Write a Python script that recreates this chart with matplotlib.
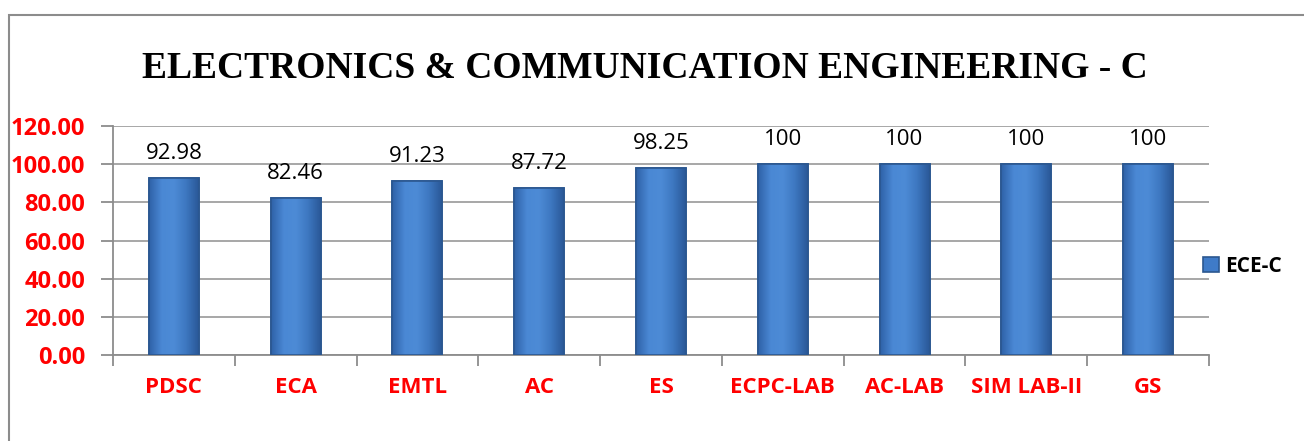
import matplotlib
matplotlib.use("Agg")
import matplotlib.pyplot as plt
from matplotlib.patches import Rectangle
from matplotlib.colors import LinearSegmentedColormap
import numpy as np

categories = ["PDSC", "ECA", "EMTL", "AC", "ES", "ECPC-LAB", "AC-LAB", "SIM LAB-II", "GS"]
values = [92.98, 82.46, 91.23, 87.72, 98.25, 100, 100, 100, 100]
value_labels = ["92.98", "82.46", "91.23", "87.72", "98.25", "100", "100", "100", "100"]
yticks = [0, 20, 40, 60, 80, 100, 120]
series_name = "ECE-C"
title = "ELECTRONICS & COMMUNICATION ENGINEERING - C"

W, H = 1304, 441
fig = plt.figure(figsize=(W / 100, H / 100), dpi=100)
fig.patch.set_facecolor("white")

# outer chart frame
fig.patches.append(Rectangle((9 / W, -0.1), 1.2, 1 - 15 / H + 0.1, transform=fig.transFigure,
                             fill=False, edgecolor="#8c8c8c", linewidth=1.5))

ax = fig.add_axes([113 / W, 1 - 355 / H, (1209 - 113) / W, (355 - 126) / H])
x = np.arange(len(categories))
bw = 0.41
bars = ax.bar(x, values, width=bw, color="#3f7bc8", edgecolor="#2b5790", linewidth=1.2, zorder=3)

# horizontal gradient fill inside bars
cmap = LinearSegmentedColormap.from_list("bev", ["#2f62a8", "#4a88d4", "#4d8bd6", "#3d77c0", "#2a5898"])
grad = np.linspace(0, 1, 64).reshape(1, -1)
for b in bars:
    x0, y0 = b.get_x(), b.get_y()
    im = ax.imshow(grad, cmap=cmap, aspect="auto", extent=(x0, x0 + b.get_width(), y0, y0 + b.get_height()),
                   zorder=3.5, interpolation="bicubic")
    im.set_clip_path(b)
for b in bars:
    ax.add_patch(Rectangle((b.get_x(), b.get_y()), b.get_width(), b.get_height(), fill=False,
                           edgecolor="#2b5790", linewidth=1.2, zorder=4))

ax.set_xlim(-0.5, len(categories) - 0.5)
ax.set_ylim(0, 120)
ax.set_yticks(yticks)
ax.set_yticklabels([f"{v:.2f}" for v in yticks], color="red", fontweight="bold",
                   fontsize=17, family="Open Sans")
ax.yaxis.grid(True, color="#a0a0a0", linewidth=1.3, zorder=0)
ax.set_axisbelow(True)

ax.set_xticks(np.arange(len(categories) + 1) - 0.5)
ax.set_xticklabels([])
ax.set_xticks(x, minor=True)
ax.set_xticklabels(categories, minor=True, color="red", fontweight="bold", fontsize=16, family="Open Sans")
ax.tick_params(axis="x", which="minor", length=0, pad=16)
ax.tick_params(axis="x", which="major", length=8, width=1.3, color="#8c8c8c")
ax.tick_params(axis="y", length=9, width=1.3, color="#8c8c8c", pad=11)

for s in ["top", "right"]:
    ax.spines[s].set_visible(False)
for s in ["left", "bottom"]:
    ax.spines[s].set_color("#8c8c8c")
    ax.spines[s].set_linewidth(1.3)

for xi, v, lab in zip(x, values, value_labels):
    ax.annotate(lab, (xi, v), xytext=(0, 10), textcoords="offset points", ha="center", va="bottom",
                fontsize=16, family="Open Sans", color="black")

fig.text(645 / W, 1 - 68 / H, title, ha="center", va="center", fontsize=27,
         fontweight="bold", family="Liberation Serif")

leg = ax.legend([bars[0]], [series_name], loc="center left", bbox_to_anchor=(1203 / W, 1 - 266 / H),
                bbox_transform=fig.transFigure, frameon=False, handlelength=0.75, handleheight=0.75,
                handletextpad=0.3, borderaxespad=0, borderpad=0,
                prop={"family": "Open Sans", "weight": "bold", "size": 15})

fig.savefig("out.png", dpi=100)
